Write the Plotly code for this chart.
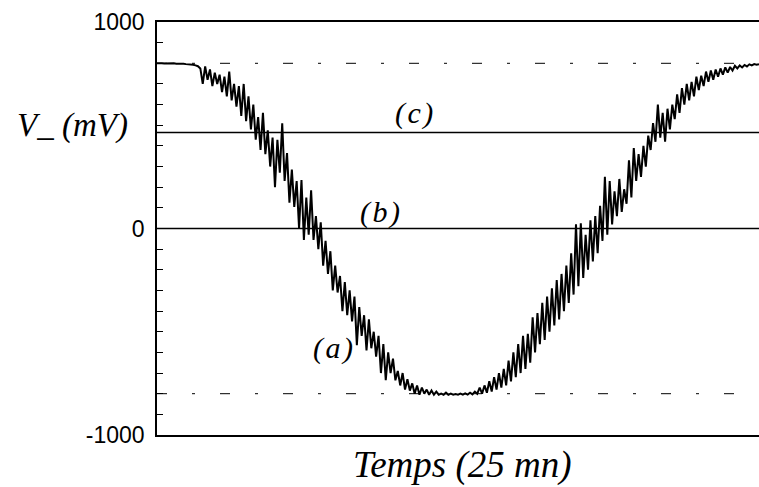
import numpy as np
import plotly.graph_objects as go

# --- data -------------------------------------------------------------
duration_min = 25.0  # "Temps (25 mn)"
v_minus = [
    800, 801, 800, 799, 800, 800, 799, 800, 798, 799, 797, 798, 796, 795, 796, 793, 790, 786,
    775, 700, 785, 720, 770, 690, 755, 700, 745, 660, 735, 640, 760, 620, 700, 590, 690, 545,
    700, 520, 640, 480, 600, 430, 540, 380, 560, 360, 475, 300, 440, 200, 430, 270, 510, 230,
    365, 125, 285, 105, 230, 0, 235, -55, 150, -30, 185, -55, 60, -100, 30, -180, -60, -220,
    -110, -300, -180, -310, -230, -400, -260, -420, -300, -450, -330, -565, -380, -520, -420,
    -590, -440, -580, -500, -620, -520, -700, -560, -735, -600, -700, -630, -735, -690, -760,
    -700, -780, -730, -785, -750, -800, -760, -805, -770, -800, -780, -805, -785, -805, -790,
    -805, -800, -805, -795, -805, -800, -805, -802, -805, -800, -805, -798, -804, -795, -803,
    -790, -800, -770, -800, -760, -795, -740, -790, -720, -780, -700, -770, -680, -760, -640,
    -740, -600, -720, -560, -700, -520, -680, -510, -650, -430, -600, -410, -560, -360, -540,
    -330, -500, -290, -470, -250, -440, -220, -400, -180, -360, -120, -320, 20, -280, 25, -240,
    -30, -200, 40, -160, 60, -120, 110, -60, 250, -30, 230, 20, 180, 60, 240, 80, 190, 120,
    330, 150, 390, 230, 360, 250, 400, 300, 450, 380, 510, 420, 600, 440, 560, 420, 580, 480,
    600, 530, 650, 560, 680, 600, 700, 620, 710, 640, 735, 670, 740, 690, 760, 710, 765, 720,
    770, 735, 775, 745, 780, 755, 782, 765, 788, 775, 790, 780, 792, 785, 795, 790, 796, 793, 796,
]
time_min = np.linspace(0, duration_min, len(v_minus))

solid_levels = [0, 465]          # (b), (c)
dashed_levels = [800, -800]      # saturation levels
y_ticks = [-1000, 0, 1000]
y_tick_text = ["-1000", "0", "1000"]
curve_labels = ["(a)", "(b)", "(c)"]
label_t = [7.31, 9.26, 10.67]
label_v = [-579, 80, 559]

# --- figure -----------------------------------------------------------
fig = go.Figure()

for lv in solid_levels:
    fig.add_trace(go.Scatter(x=[0, duration_min], y=[lv, lv], mode="lines",
                             line=dict(color="black", width=1.6), hoverinfo="skip",
                             showlegend=False))
for lv in dashed_levels:
    fig.add_trace(go.Scatter(x=[0, duration_min], y=[lv, lv], mode="lines",
                             line=dict(color="black", width=1, dash="10px,25px,3px,25px"),
                             hoverinfo="skip", showlegend=False))

fig.add_trace(go.Scatter(x=time_min, y=v_minus, mode="lines",
                         line=dict(color="black", width=2), showlegend=False))

serif = "Liberation Serif"
hs = "\u200a"
for txt, t, v in zip(curve_labels, label_t, label_v):
    spaced = txt[0] + hs + txt[1] + hs + txt[2]
    fig.add_annotation(x=t, y=v, text=spaced, showarrow=False,
                       xanchor="center", yanchor="middle",
                       font=dict(family=serif, size=30, color="black", style="italic"))

fig.add_annotation(xref="paper", yref="paper", x=-0.141, y=0.75, text="V_ (mV)",
                   showarrow=False, xanchor="center", yanchor="middle",
                   font=dict(family=serif, size=33, color="black", style="italic"))
fig.add_annotation(xref="paper", yref="paper", x=0.508, y=-0.073, text="Temps (25 mn)",
                   showarrow=False, xanchor="center", yanchor="middle",
                   font=dict(family=serif, size=37, color="black", style="italic"))

fig.update_xaxes(range=[0, duration_min], showline=True, linecolor="black", linewidth=1.5,
                 mirror=True, showgrid=False, zeroline=False, showticklabels=False,
                 ticks="")
fig.update_yaxes(range=[-1000, 1000], tickvals=y_ticks, ticktext=y_tick_text,
                 showline=True, linecolor="black", linewidth=1.5, showgrid=False,
                 zeroline=False, ticks="inside", ticklen=6, tickcolor="black",
                 minor=dict(ticks="inside", dtick=100, ticklen=6, tickcolor="black"),
                 tickfont=dict(family="Liberation Sans", size=23, color="black"),
                 ticklabelstandoff=6)

fig.update_layout(width=759, height=487, margin=dict(l=157, r=0, t=22, b=52),
                  paper_bgcolor="white", plot_bgcolor="white", showlegend=False)

fig.write_html("out.html")
